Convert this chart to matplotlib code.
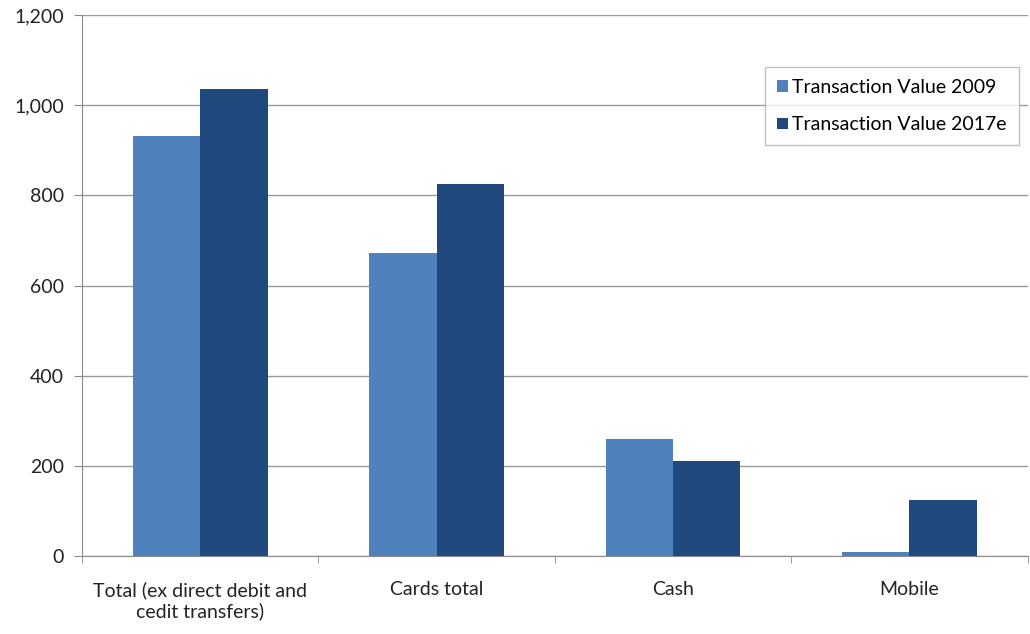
import matplotlib.pyplot as plt
import numpy as np
from matplotlib.ticker import FuncFormatter, FixedLocator

categories = ["Total (ex direct debit and\ncedit transfers)", "Cards total", "Cash", "Mobile"]
value_2009 = [932, 672, 260, 10]
value_2017e = [1037, 826, 210, 124]
series_names = ["Transaction Value 2009", "Transaction Value 2017e"]

plt.rcParams["font.family"] = ["Lato", "DejaVu Sans"]

fig = plt.figure(figsize=(10.3, 6.34), dpi=100)
ax = fig.add_axes([0.0796, 0.123, 0.918, 0.853])

x = np.arange(len(categories))
w = 0.285
ax.bar(x - w / 2, value_2009, w, color="#4F81BD", label=series_names[0])
ax.bar(x + w / 2, value_2017e, w, color="#1F497D", label=series_names[1])

ax.set_xlim(-0.5, len(categories) - 0.5)
ax.set_ylim(0, 1200)
ax.set_yticks(range(0, 1201, 200))
ax.yaxis.set_major_formatter(FuncFormatter(lambda v, p: "{:,.0f}".format(v)))
ax.yaxis.grid(True, color="#9A9A9A", linewidth=1)
ax.set_axisbelow(True)

ax.set_xticks(x)
ax.set_xticklabels(categories, fontsize=14, color="#222222", linespacing=1.25)
ax.xaxis.set_minor_locator(FixedLocator(np.arange(-0.5, len(categories), 1)))
ax.tick_params(axis="x", which="major", length=0, pad=18)
ax.tick_params(axis="x", which="minor", length=5, color="#8A8A8A")
ax.tick_params(axis="y", length=6, color="#8A8A8A", labelsize=14,
               labelcolor="#222222", pad=7)

for side in ["top", "right"]:
    ax.spines[side].set_visible(False)
ax.spines["left"].set_color("#8A8A8A")
ax.spines["bottom"].set_color("#8A8A8A")

leg = ax.legend(loc="upper right", bbox_to_anchor=(0.9905, 0.9035), fontsize=14,
                frameon=True, fancybox=False, edgecolor="#B0B0B0",
                handlelength=0.55, handleheight=0.55, handletextpad=0.25,
                labelspacing=1.05, borderpad=0.6, borderaxespad=0)
leg.get_frame().set_linewidth(1)

fig.savefig("out.png", dpi=100)
